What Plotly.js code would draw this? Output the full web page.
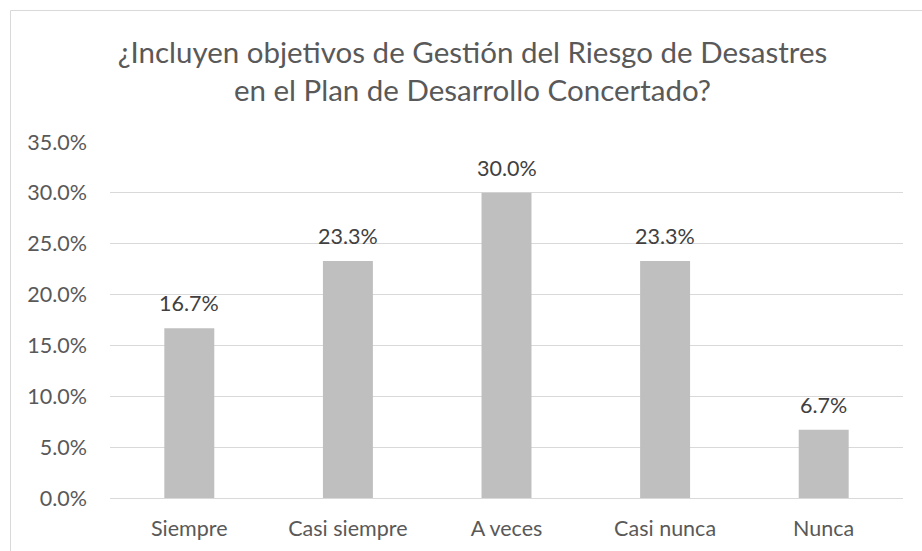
<!DOCTYPE html>
<html>
<head>
<meta charset="utf-8">
<script src="https://cdn.plot.ly/plotly-3.0.1.min.js"></script>
<style>html,body{margin:0;padding:0;background:#fff;}</style>
</head>
<body>
<div id="chart" style="width:922px;height:551px;"></div>
<script>
const categories = ["Siempre", "Casi siempre", "A veces", "Casi nunca", "Nunca"];
const values = [0.167, 0.233, 0.300, 0.233, 0.067];
const yTickValues = [0, 0.05, 0.10, 0.15, 0.20, 0.25, 0.30, 0.35];
const yTickLabels = ["0.0%", "5.0%", "10.0%", "15.0%", "20.0%", "25.0%", "30.0%", "35.0%"];
const titleText = "¿Incluyen objetivos de Gestión del Riesgo de Desastres<br>en el Plan de Desarrollo Concertado?";

const FONT = "Lato, 'Open Sans', sans-serif";

const trace = {
  type: "bar",
  x: categories,
  y: values,
  marker: {color: "#bfbfbf"},
  hoverinfo: "skip"
};

const labelAnnotations = categories.map((c, i) => ({
  x: c, y: values[i], xref: "x", yref: "y",
  text: (values[i] * 100).toFixed(1) + "%",
  showarrow: false,
  xanchor: "center", yanchor: "bottom",
  yshift: 10,
  font: {family: FONT, size: 21.5, color: "#404040"}
}));

const layout = {
  width: 922,
  height: 551,
  margin: {l: 110, r: 19, t: 142, b: 53},
  paper_bgcolor: "#ffffff",
  plot_bgcolor: "#ffffff",
  font: {family: FONT, color: "#595959", size: 21.5},
  title: {
    text: titleText,
    font: {family: FONT, size: 29.5, color: "#595959"},
    x: 472.5 / 922, xref: "container", xanchor: "center",
    y: 1 - 63 / 551, yref: "container", yanchor: "top"
  },
  bargap: 0.685,
  showlegend: false,
  xaxis: {
    type: "category",
    showgrid: false,
    showline: false,
    zeroline: false,
    ticks: "",
    tickfont: {family: FONT, size: 21.5, color: "#595959"},
    ticklabelstandoff: 15
  },
  yaxis: {
    range: [0, 0.35],
    tickvals: yTickValues,
    ticktext: yTickLabels,
    showgrid: true,
    gridcolor: "#d9d9d9",
    gridwidth: 1,
    zeroline: true,
    zerolinecolor: "#d9d9d9",
    zerolinewidth: 1,
    showline: false,
    ticks: "",
    tickfont: {family: FONT, size: 21.5, color: "#595959"},
    ticklabelstandoff: 22
  },
  annotations: labelAnnotations,
  shapes: [
    {type: "line", xref: "paper", yref: "paper",
     x0: (10.5 - 110) / 793, x1: (10.5 - 110) / 793,
     y0: 1 + (142 - 10.5) / 356, y1: -0.3,
     line: {color: "#d9d9d9", width: 1}},
    {type: "line", xref: "paper", yref: "paper",
     x0: (10.5 - 110) / 793, x1: 1.1,
     y0: 1 + (142 - 10.5) / 356, y1: 1 + (142 - 10.5) / 356,
     line: {color: "#d9d9d9", width: 1}}
  ]
};

Plotly.newPlot("chart", [trace], layout, {displayModeBar: false, staticPlot: true});
</script>
</body>
</html>
